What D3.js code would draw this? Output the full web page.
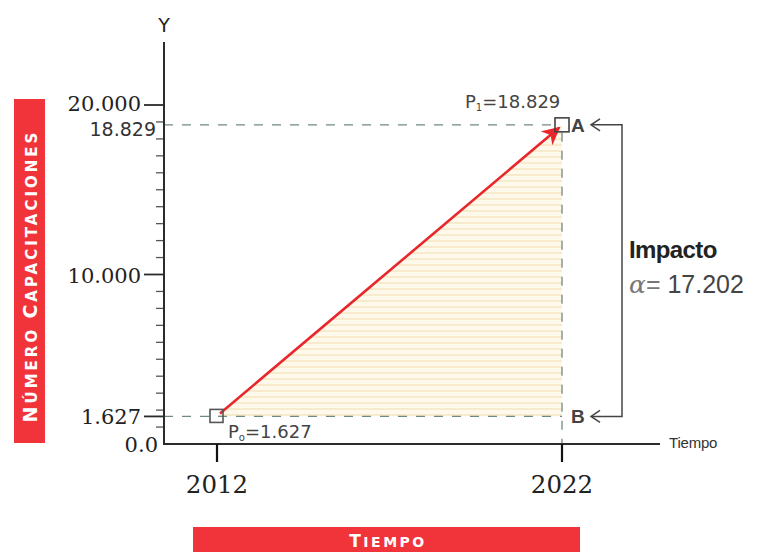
<!DOCTYPE html>
<html><head><meta charset="utf-8">
<script src="https://cdn.jsdelivr.net/npm/d3@7"></script>
<style>body{margin:0;background:#fff}svg{display:block}</style>
</head><body>
<svg id="c" width="763" height="552"></svg>
<script>
const years = [2012, 2022];
const values = [1627, 18829];
const yMajorTicks = [0, 10000, 20000];
const yTickLabels = ["0.0", "10.000", "20.000"];
const pointLabels = ["1.627", "18.829"];
const impact = "17.202";
const yMinorStep = 1000;

const svg = d3.select("#c");
const x = d3.scaleLinear().domain([2012, 2022]).range([217, 562]);
const y = d3.scaleLinear().domain([0, 20000]).range([444, 105]);
const axisColor = "#2b2b2b";
const dashColor = "#6f8a80";

const defs = svg.append("defs");
const pat = defs.append("pattern").attr("id", "stripes").attr("patternUnits", "userSpaceOnUse")
  .attr("width", 8).attr("height", 6);
pat.append("rect").attr("width", 8).attr("height", 6).attr("fill", "#fef9ea");
pat.append("rect").attr("y", 0).attr("width", 8).attr("height", 2).attr("fill", "#f8ebcd");
defs.append("marker").attr("id", "ah").attr("viewBox", "0 0 10 10").attr("refX", 9).attr("refY", 5)
  .attr("markerWidth", 7).attr("markerHeight", 7).attr("markerUnits", "strokeWidth").attr("orient", "auto")
  .append("path").attr("d", "M0,0 L10,5 L0,10 L3,5 Z").attr("fill", "#e8262b");

const p0 = [x(years[0]), y(values[0])], p1 = [x(years[1]), y(values[1])];
svg.append("path").attr("d", `M${p0[0]},${p0[1]} L${p1[0]},${p1[1]} L${p1[0]},${p0[1]} Z`)
  .attr("fill", "url(#stripes)");

const dash = "9,9";
svg.append("line").attr("x1", 164).attr("x2", p1[0] - 7).attr("y1", p1[1]).attr("y2", p1[1])
  .attr("stroke", dashColor).attr("stroke-width", 1.3).attr("stroke-dasharray", dash);
svg.append("line").attr("x1", 164).attr("x2", p1[0]).attr("y1", p0[1]).attr("y2", p0[1])
  .attr("stroke", dashColor).attr("stroke-width", 1.3).attr("stroke-dasharray", dash);
svg.append("line").attr("x1", p1[0]).attr("x2", p1[0]).attr("y1", p1[1] + 8).attr("y2", y(0))
  .attr("stroke", dashColor).attr("stroke-width", 1.3).attr("stroke-dasharray", dash);

svg.append("g").selectAll("line").data(d3.range(0, 20001, yMinorStep).filter(v => !yMajorTicks.includes(v)))
  .join("line").attr("x1", 156).attr("x2", 164).attr("y1", d => y(d)).attr("y2", d => y(d))
  .attr("stroke", "#555").attr("stroke-width", 1.3);
svg.append("g").selectAll("line").data(yMajorTicks.filter(v => v > 0).concat([values[0]]))
  .join("line").attr("x1", 144).attr("x2", 164).attr("y1", d => y(d)).attr("y2", d => y(d))
  .attr("stroke", axisColor).attr("stroke-width", 1.8);
svg.append("g").selectAll("text").data(yMajorTicks).join("text")
  .attr("x", (d, i) => i === 0 ? 158 : 141).attr("y", (d, i) => y(d) + (i === 2 ? 6 : 8))
  .attr("text-anchor", "end").attr("font-family", "DejaVu Serif").attr("font-size", 21)
  .attr("fill", "#222").text((d, i) => yTickLabels[i]);
svg.append("text").attr("x", 141).attr("y", y(values[0]) + 8).attr("text-anchor", "end")
  .attr("font-family", "DejaVu Serif").attr("font-size", 21).attr("fill", "#222").text(pointLabels[0]);
svg.append("text").attr("x", 156).attr("y", y(values[1]) + 11).attr("text-anchor", "end")
  .attr("font-family", "DejaVu Sans").attr("font-size", 19).attr("fill", "#333").text(pointLabels[1]);

svg.append("line").attr("x1", 164).attr("x2", 164).attr("y1", 42).attr("y2", y(0))
  .attr("stroke", axisColor).attr("stroke-width", 2);
svg.append("line").attr("x1", 163).attr("x2", 660).attr("y1", y(0)).attr("y2", y(0))
  .attr("stroke", axisColor).attr("stroke-width", 2);
svg.append("text").attr("x", 164).attr("y", 32).attr("text-anchor", "middle")
  .attr("font-family", "DejaVu Sans").attr("font-size", 19).attr("fill", "#222").text("Y");
svg.append("text").attr("x", 669).attr("y", 448).attr("font-family", "Liberation Sans")
  .attr("font-size", 15).attr("fill", "#333").attr("letter-spacing", "-0.2").text("Tiempo");

svg.append("g").selectAll("line").data(years).join("line")
  .attr("x1", d => x(d)).attr("x2", d => x(d)).attr("y1", y(0)).attr("y2", y(0) + 18)
  .attr("stroke", "#111").attr("stroke-width", 2.2);
svg.append("g").selectAll("text").data(years).join("text")
  .attr("x", d => x(d)).attr("y", 493).attr("text-anchor", "middle")
  .attr("font-family", "DejaVu Serif").attr("font-size", 24.5).attr("fill", "#222").text(d => d);

svg.append("line").attr("x1", p0[0] + 3).attr("y1", p0[1] - 3).attr("x2", p1[0] - 3).attr("y2", p1[1] + 3)
  .attr("stroke", "#e8262b").attr("stroke-width", 2.6).attr("marker-end", "url(#ah)");

svg.append("rect").attr("x", p0[0] - 7).attr("y", p0[1] - 7).attr("width", 13).attr("height", 13)
  .attr("fill", "none").attr("stroke", "#555").attr("stroke-width", 1.6);
svg.append("rect").attr("x", p1[0] - 7).attr("y", p1[1] - 7).attr("width", 14).attr("height", 14)
  .attr("fill", "none").attr("stroke", "#444").attr("stroke-width", 1.6);

const t0 = svg.append("text").attr("x", p0[0] + 11).attr("y", p0[1] + 22)
  .attr("font-family", "DejaVu Sans").attr("font-size", 18).attr("fill", "#444");
t0.append("tspan").text("P");
t0.append("tspan").attr("font-size", 10).attr("dy", 3).text("o");
t0.append("tspan").attr("dy", -3).text("=" + pointLabels[0]);
const t1 = svg.append("text").attr("x", 465).attr("y", p1[1] - 17)
  .attr("font-family", "DejaVu Sans").attr("font-size", 18).attr("fill", "#444");
t1.append("tspan").text("P");
t1.append("tspan").attr("font-size", 10).attr("dy", 3).text("1");
t1.append("tspan").attr("dy", -3).text("=" + pointLabels[1]);

svg.append("text").attr("x", 571).attr("y", p1[1] + 7).attr("font-family", "Liberation Sans")
  .attr("font-weight", "bold").attr("font-size", 19).attr("fill", "#444").text("A");
svg.append("text").attr("x", 571).attr("y", p0[1] + 7).attr("font-family", "Liberation Sans")
  .attr("font-weight", "bold").attr("font-size", 19).attr("fill", "#444").text("B");

const bx = 622;
svg.append("path").attr("d", `M592,${p1[1]} H${bx} V${p0[1]} H592`)
  .attr("fill", "none").attr("stroke", "#444").attr("stroke-width", 1.5);
[p1[1], p0[1]].forEach(yy => {
  svg.append("path").attr("d", `M600,${yy - 6} L591,${yy} L600,${yy + 6}`)
    .attr("fill", "none").attr("stroke", "#444").attr("stroke-width", 1.5);
});

svg.append("text").attr("x", 629).attr("y", 258).attr("font-family", "Liberation Sans")
  .attr("font-weight", "bold").attr("font-size", 24).attr("fill", "#222").attr("letter-spacing", "-0.6").text("Impacto");
const ta = svg.append("text").attr("x", 629).attr("y", 293).attr("font-family", "Liberation Sans")
  .attr("font-size", 25).attr("fill", "#444");
ta.append("tspan").attr("font-family", "DejaVu Serif").attr("font-style", "italic").attr("fill", "#777").text("α");
ta.append("tspan").attr("fill", "#777").text("= ");
ta.append("tspan").text(impact);

svg.append("rect").attr("x", 14).attr("y", 99).attr("width", 31).attr("height", 344).attr("fill", "#f1333a");
svg.append("text").attr("transform", "translate(37,276) rotate(-90)").attr("text-anchor", "middle")
  .attr("font-family", "DejaVu Sans").attr("font-weight", "bold").attr("font-size", 19)
  .attr("fill", "#fff").attr("letter-spacing", "3")
  .call(t => {
    t.append("tspan").text("N");
    t.append("tspan").attr("font-size", 15).text("ÚMERO ");
    t.append("tspan").text("C");
    t.append("tspan").attr("font-size", 15).text("APACITACIONES");
  });
svg.append("rect").attr("x", 193).attr("y", 527).attr("width", 387).attr("height", 25).attr("fill", "#f1333a");
svg.append("text").attr("x", 388).attr("y", 547).attr("text-anchor", "middle")
  .attr("font-family", "DejaVu Sans").attr("font-weight", "bold").attr("font-size", 17)
  .attr("fill", "#fff").attr("letter-spacing", "2.5")
  .call(t => {
    t.append("tspan").text("T");
    t.append("tspan").attr("font-size", 14).text("IEMPO");
  });
</script>
</body></html>
